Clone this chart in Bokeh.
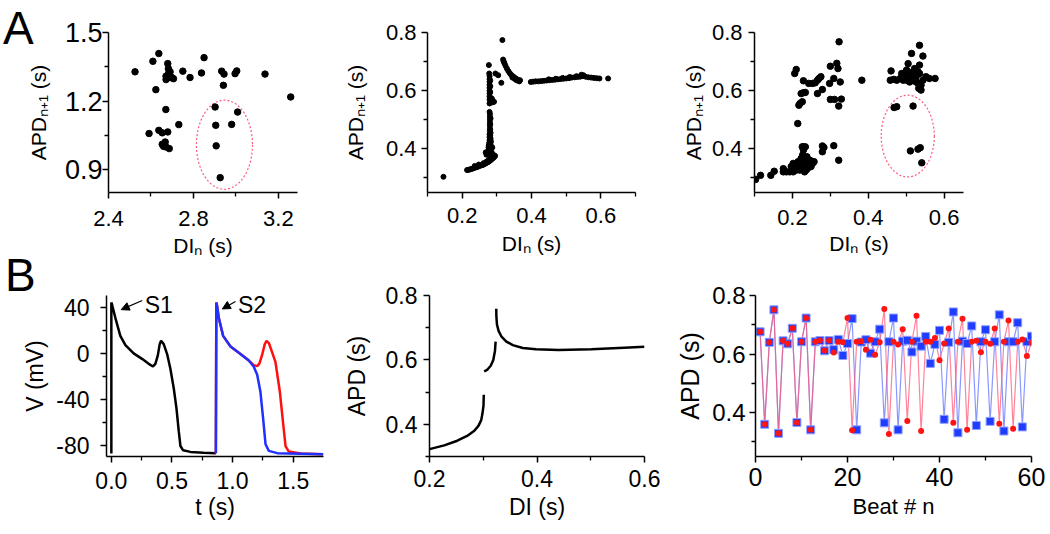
from bokeh.plotting import figure
from bokeh.layouts import column, row
from bokeh.models import FixedTicker, Label, Arrow, NormalHead, Range1d, PrintfTickFormatter, Div
from bokeh.embed import file_html
from bokeh.resources import INLINE

FONT = "Liberation Sans"

# ---------------- Panel A1 data ----------------
a1_di = [2.525, 2.591, 2.609, 2.637, 2.623, 2.637, 2.653, 2.679, 2.670, 2.653, 2.659, 2.671, 2.686, 2.667,
         2.679, 2.682, 2.682, 2.671, 2.671, 2.690, 2.698, 2.706, 2.690, 2.731, 2.750, 2.784, 2.838, 2.850,
         2.902, 2.905, 2.907, 2.926, 2.933, 2.944, 2.941, 2.980, 2.996, 3.004, 3.008, 3.137, 3.258]
a1_apd = [1.328, 1.058, 1.374, 1.408, 1.250, 1.072, 1.061, 1.065, 1.163, 1.011, 1.002, 0.999, 0.992, 1.021,
          1.364, 1.342, 1.320, 1.309, 1.294, 1.303, 1.303, 1.298, 1.328, 1.097, 1.331, 1.303, 1.323, 1.390,
          1.174, 1.094, 1.004, 0.865, 1.331, 1.318, 1.269, 1.098, 1.320, 1.332, 1.152, 1.318, 1.218]
a1_ellipse = dict(x=[2.946], y=[1.009], w=[0.264], h=[0.39])

# ---------------- Panel A2 data ----------------
a2_di = [0.146, 0.316,
         0.214, 0.218, 0.222, 0.226, 0.230, 0.234, 0.238, 0.242, 0.246, 0.250, 0.254, 0.258, 0.262, 0.266,
         0.270, 0.274, 0.278, 0.282, 0.286, 0.290, 0.293, 0.295,
         0.236, 0.248, 0.262, 0.275, 0.284, 0.290, 0.280, 0.270,
         0.268, 0.270, 0.272, 0.274, 0.276, 0.278, 0.280, 0.283, 0.285, 0.287, 0.284, 0.288, 0.276, 0.277,
         0.282, 0.278, 0.283, 0.279, 0.282, 0.279, 0.279, 0.280, 0.280, 0.280, 0.280, 0.280, 0.280, 0.280,
         0.279, 0.281, 0.281, 0.281, 0.282, 0.282,
         0.279, 0.281, 0.284, 0.288, 0.292, 0.283, 0.286, 0.279, 0.279, 0.279, 0.279, 0.279, 0.279, 0.279,
         0.279, 0.279, 0.278, 0.277, 0.281, 0.281, 0.281,
         0.296, 0.304, 0.313,
         0.318, 0.320, 0.322, 0.325, 0.329, 0.333, 0.337, 0.341, 0.346, 0.350, 0.355, 0.360, 0.367, 0.362,
         0.357, 0.352, 0.345, 0.365,
         0.398, 0.405, 0.412, 0.420, 0.428, 0.436, 0.444, 0.452, 0.460, 0.468, 0.476, 0.484, 0.492, 0.500,
         0.508, 0.516, 0.524, 0.532, 0.540, 0.548, 0.556, 0.564, 0.572, 0.580, 0.588, 0.596, 0.621, 0.544,
         0.550, 0.530, 0.510, 0.490, 0.470, 0.450]
a2_apd = [0.304, 0.774,
          0.327, 0.328, 0.329, 0.331, 0.332, 0.334, 0.336, 0.337, 0.339, 0.341, 0.343, 0.344, 0.346, 0.349,
          0.351, 0.354, 0.357, 0.361, 0.365, 0.369, 0.373, 0.376,
          0.341, 0.346, 0.351, 0.360, 0.368, 0.379, 0.366, 0.356,
          0.388, 0.380, 0.385, 0.390, 0.395, 0.400, 0.390, 0.395, 0.385, 0.405, 0.378, 0.383, 0.405, 0.412,
          0.415, 0.420, 0.425, 0.430, 0.435, 0.440, 0.450, 0.460, 0.470, 0.480, 0.490, 0.500, 0.510, 0.520,
          0.527, 0.445, 0.465, 0.485, 0.505, 0.455,
          0.556, 0.560, 0.563, 0.560, 0.562, 0.575, 0.572, 0.570, 0.580, 0.590, 0.600, 0.610, 0.620, 0.630,
          0.640, 0.650, 0.659, 0.688, 0.595, 0.615, 0.635,
          0.659, 0.653, 0.627,
          0.707, 0.700, 0.694, 0.686, 0.676, 0.668, 0.661, 0.655, 0.650, 0.646, 0.642, 0.638, 0.636, 0.634,
          0.636, 0.640, 0.645, 0.632,
          0.630, 0.631, 0.632, 0.632, 0.633, 0.634, 0.635, 0.636, 0.637, 0.638, 0.639, 0.640, 0.641, 0.642,
          0.643, 0.645, 0.646, 0.647, 0.648, 0.650, 0.648, 0.646, 0.645, 0.644, 0.643, 0.642, 0.642, 0.655,
          0.653, 0.650, 0.647, 0.644, 0.641, 0.639]

# ---------------- Panel A3 data ----------------
a3_di = [0.103, 0.116, 0.143, 0.152, 0.176, 0.176, 0.184, 0.193,
         0.197, 0.202, 0.206, 0.210, 0.215, 0.219, 0.219, 0.223, 0.223, 0.227, 0.227, 0.227, 0.229, 0.229,
         0.232, 0.234, 0.236, 0.238, 0.240, 0.243, 0.246, 0.249, 0.253, 0.257, 0.210, 0.202, 0.236, 0.226,
         0.234,
         0.214, 0.217, 0.220, 0.226, 0.223, 0.229, 0.234, 0.206, 0.210, 0.229, 0.243, 0.253, 0.260, 0.266,
         0.270, 0.275, 0.266, 0.279, 0.300, 0.317, 0.320, 0.309, 0.298, 0.326, 0.300, 0.311, 0.329, 0.322,
         0.323, 0.279, 0.283, 0.279, 0.309, 0.322, 0.383,
         0.535, 0.514, 0.544, 0.505, 0.535, 0.460, 0.458, 0.467, 0.475, 0.484, 0.488, 0.492, 0.497, 0.501,
         0.505, 0.509, 0.514, 0.518, 0.522, 0.526, 0.531, 0.533, 0.539, 0.544, 0.552, 0.561, 0.576, 0.518,
         0.526, 0.535, 0.509, 0.501, 0.522, 0.531, 0.539,
         0.468, 0.475, 0.518, 0.511, 0.531, 0.537, 0.541]
a3_apd = [0.295, 0.309, 0.309, 0.323, 0.332, 0.321, 0.321, 0.321,
          0.339, 0.350, 0.333, 0.344, 0.356, 0.327, 0.339, 0.350, 0.367, 0.339, 0.356, 0.379, 0.396, 0.407,
          0.321, 0.344, 0.361, 0.373, 0.333, 0.350, 0.361, 0.339, 0.350, 0.356, 0.327, 0.321, 0.327, 0.407,
          0.407,
          0.487, 0.550, 0.556, 0.562, 0.590, 0.593, 0.594, 0.659, 0.673, 0.634, 0.625, 0.625, 0.627, 0.636,
          0.642, 0.648, 0.590, 0.604, 0.684, 0.694, 0.676, 0.642, 0.625, 0.630, 0.570, 0.570, 0.571, 0.547,
          0.768, 0.410, 0.405, 0.390, 0.411, 0.361, 0.636,
          0.756, 0.728, 0.719, 0.693, 0.688, 0.668, 0.636, 0.639, 0.636, 0.642, 0.659, 0.636, 0.648, 0.671,
          0.648, 0.653, 0.636, 0.665, 0.636, 0.648, 0.625, 0.608, 0.602, 0.636, 0.648, 0.642, 0.642, 0.648,
          0.630, 0.659, 0.630, 0.636, 0.676, 0.665, 0.619,
          0.542, 0.545, 0.547, 0.393, 0.399, 0.404, 0.352]
a3_ellipse = dict(x=[0.504], y=[0.444], w=[0.140], h=[0.281])

# ---------------- Panel B1 data ----------------
b1_t_s1 = [0.0, 0.0, 0.006, 0.033, 0.074, 0.116, 0.184, 0.253, 0.308, 0.344, 0.363, 0.383, 0.399, 0.410,
           0.432, 0.460, 0.487, 0.515, 0.537, 0.556, 0.570, 0.592, 0.652, 0.760, 0.862]
b1_v_s1 = [-87.4, 44, 42, 30.6, 14.9, 6.9, -0.3, -5.1, -9.4, -11.7, -9.5, -2.3, 7.7, 10.6,
           7.7, -0.9, -13.7, -30.9, -48, -68, -80.9, -84.6, -86, -86.8, -87.2]
b1_t_red = [0.862, 0.866, 0.872, 0.886, 0.922, 0.983, 1.065, 1.134, 1.175, 1.203, 1.222, 1.244, 1.265,
            1.280, 1.300, 1.325, 1.354, 1.390, 1.418, 1.437, 1.464, 1.561, 1.748]
b1_v_red = [-87.2, 44, 41, 30.6, 14.9, 5.7, -0.9, -6.6, -10.5, -11.4, -9.0, -1.5, 7.5,
            10.6, 8.5, 1.0, -8, -33.7, -62.3, -80.9, -85.7, -87.4, -88]
b1_t_blue = [0.862, 0.866, 0.872, 0.886, 0.922, 0.983, 1.065, 1.134, 1.175, 1.203, 1.230, 1.252, 1.272,
             1.299, 1.368, 1.748]
b1_v_blue = [-87.2, 44, 41, 30.6, 14.9, 5.7, -0.9, -6.6, -12, -19, -34, -57, -79.4, -85.1, -87.1, -88]
b1_text = ["S1", "S2"]
b1_text_t = [0.275, 1.045]
b1_text_v = [41.5, 41.5]
b1_arrow_t0 = [0.2546, 1.024]
b1_arrow_v0 = [45.7, 44.8]
b1_arrow_t1 = [0.0813, 0.915]
b1_arrow_v1 = [37.7, 38.3]

# ---------------- Panel B2 data ----------------
b2_di = [[0.200, 0.2274, 0.2517, 0.270, 0.2834, 0.2913, 0.2962, 0.2986, 0.3005, 0.301],
         [0.3017, 0.3078, 0.3139, 0.3187, 0.3218, 0.323],
         [0.3242, 0.3244, 0.3255, 0.3285, 0.334, 0.343, 0.355, 0.3736, 0.398, 0.440, 0.501, 0.562, 0.600]]
b2_apd = [[0.323, 0.3345, 0.349, 0.364, 0.380, 0.396, 0.413, 0.434, 0.459, 0.492],
          [0.564, 0.570, 0.582, 0.600, 0.628, 0.657],
          [0.759, 0.736, 0.710, 0.690, 0.672, 0.657, 0.646, 0.637, 0.633, 0.631, 0.633, 0.638, 0.641]]

# ---------------- Panel B3 data ----------------
b3_beat = list(range(1, 61))
b3_blue = [0.676, 0.360, 0.640, 0.751, 0.329, 0.645, 0.635, 0.688, 0.366, 0.642,
           0.723, 0.341, 0.642, 0.646, 0.611, 0.646, 0.615, 0.650, 0.595, 0.636,
           0.721, 0.341, 0.641, 0.649, 0.603, 0.642, 0.685, 0.365, 0.642, 0.723,
           0.341, 0.644, 0.647, 0.607, 0.644, 0.627, 0.660, 0.568, 0.633, 0.681,
           0.377, 0.640, 0.744, 0.331, 0.644, 0.636, 0.696, 0.356, 0.642, 0.683,
           0.370, 0.642, 0.734, 0.337, 0.642, 0.642, 0.707, 0.351, 0.642, 0.661]
b3_red = [0.676, 0.360, 0.640, 0.751, 0.329, 0.645, 0.635, 0.688, 0.366, 0.642,
          0.723, 0.341, 0.642, 0.646, 0.612, 0.646, 0.605, 0.642, 0.640, 0.723,
          0.340, 0.642, 0.644, 0.615, 0.649, 0.598, 0.640, 0.754, 0.327, 0.642,
          0.633, 0.685, 0.371, 0.642, 0.731, 0.337, 0.642, 0.642, 0.655, 0.579,
          0.636, 0.687, 0.365, 0.642, 0.721, 0.341, 0.642, 0.645, 0.606, 0.642,
          0.635, 0.687, 0.362, 0.642, 0.715, 0.345, 0.642, 0.650, 0.593, 0.639]

# ---------------- tick definitions ----------------
a1_xticks, a1_xminor = [2.4, 2.8, 3.2], [2.6, 3.0]
a1_yticks, a1_yminor = [0.9, 1.2, 1.5], [1.05, 1.35]
a2_xticks, a2_xminor = [0.2, 0.4, 0.6], [0.1, 0.3, 0.5, 0.7]
a_yticks, a_yminor = [0.4, 0.6, 0.8], [0.3, 0.5, 0.7]
a3_xticks, a3_xminor = [0.2, 0.4, 0.6], [0.1, 0.3, 0.5]
b1_xticks, b1_xminor = [0.0, 0.5, 1.0, 1.5], [0.25, 0.75, 1.25]
b1_yticks, b1_yminor = [-80, -40, 0, 40], [-60, -20, 20]
b2_xticks, b2_xminor = [0.2, 0.4, 0.6], [0.3, 0.5]
b3_xticks, b3_xminor = [0, 20, 40, 60], [10, 30, 50]


def make_fig(w, h, left, right, top, bottom, xr, yr):
    p = figure(width=w, height=h, x_range=Range1d(*xr), y_range=Range1d(*yr),
               output_backend="svg", toolbar_location=None,
               min_border_left=left, min_border_right=right,
               min_border_top=top, min_border_bottom=bottom)
    p.grid.visible = False
    p.outline_line_color = None
    p.background_fill_color = "white"
    p.border_fill_color = "white"
    return p


def style(p, xt, xm, yt, ym, xfmt, yfmt, xlabel, ylabel, xtfs, ytfs, xlfs, ylfs,
          xtst, ytst, xlst, ylst):
    xa, ya = p.xaxis[0], p.yaxis[0]
    xa.ticker = FixedTicker(ticks=xt, minor_ticks=xm)
    ya.ticker = FixedTicker(ticks=yt, minor_ticks=ym)
    xa.formatter = PrintfTickFormatter(format=xfmt)
    ya.formatter = PrintfTickFormatter(format=yfmt)
    xa.axis_label = xlabel
    ya.axis_label = ylabel
    for ax, tfs, lfs, tst, lst in ((xa, xtfs, xlfs, xtst, xlst), (ya, ytfs, ylfs, ytst, ylst)):
        ax.axis_line_color = "black"
        ax.axis_line_width = 1.5
        ax.major_tick_line_color = "black"
        ax.major_tick_line_width = 1.5
        ax.minor_tick_line_color = "black"
        ax.minor_tick_line_width = 1.3
        ax.major_tick_in = 0
        ax.major_tick_out = 6
        ax.minor_tick_in = 0
        ax.minor_tick_out = 4
        ax.major_label_text_font = FONT
        ax.major_label_text_font_size = tfs
        ax.major_label_text_color = "black"
        ax.major_label_standoff = tst
        ax.axis_label_text_font = FONT
        ax.axis_label_text_font_size = lfs
        ax.axis_label_text_font_style = "normal"
        ax.axis_label_text_color = "black"
        ax.axis_label_standoff = lst


ELL = "#ff5a7a"

# A1
f1 = make_fig(340, 262, 108, 43, 32, 70, (2.4, 3.29), (0.8, 1.5))
style(f1, a1_xticks, a1_xminor, a1_yticks, a1_yminor, "%.1f", "%.1f",
      "DIₙ (s)", "APDₙ₊₁ (s)", "22px", "27px", "21px", "21px", 12, 0, 5, 12)
f1.ellipse(x=a1_ellipse["x"], y=a1_ellipse["y"], width=a1_ellipse["w"], height=a1_ellipse["h"],
           fill_color=None, line_color=ELL, line_dash="2 2", line_width=1.2)
f1.scatter(a1_di, a1_apd, size=6.5, color="black")

# A2
f2 = make_fig(338, 262, 82, 43, 32, 70, (0.1, 0.7), (0.25, 0.8))
style(f2, a2_xticks, a2_xminor, a_yticks, a_yminor, "%.1f", "%.1f",
      "DIₙ (s)", "APDₙ₊₁ (s)", "22px", "22px", "21px", "21px", 9, 5, 6, 16)
f2.scatter(a2_di, a2_apd, size=5, color="black")

# A3
f3 = make_fig(372, 262, 70, 87, 32, 70, (0.1, 0.651), (0.25, 0.8))
style(f3, a3_xticks, a3_xminor, a_yticks, a_yminor, "%.1f", "%.1f",
      "DIₙ (s)", "APDₙ₊₁ (s)", "22px", "22px", "21px", "21px", 11, 6, 4, 4)
f3.ellipse(x=a3_ellipse["x"], y=a3_ellipse["y"], width=a3_ellipse["w"], height=a3_ellipse["h"],
           fill_color=None, line_color=ELL, line_dash="2 2", line_width=1.2)
f3.scatter(a3_di, a3_apd, size=6.5, color="black")

# B1
f4 = make_fig(340, 272, 106, 17, 33, 75, (-0.04, 1.75), (-90, 50))
style(f4, b1_xticks, b1_xminor, b1_yticks, b1_yminor, "%.1f", "%d",
      "t (s)", "V (mV)", "23px", "23px", "23px", "23px", 9, 11, 2, 5)
f4.line(b1_t_s1, b1_v_s1, line_color="black", line_width=2.5)
f4.line(b1_t_red, b1_v_red, line_color="#ff1010", line_width=2.5)
f4.line(b1_t_blue, b1_v_blue, line_color="#2030ff", line_width=2.5)
for i in range(2):
    f4.add_layout(Arrow(end=NormalHead(size=8, fill_color="black", line_color="black"),
                        x_start=b1_arrow_t0[i], y_start=b1_arrow_v0[i],
                        x_end=b1_arrow_t1[i], y_end=b1_arrow_v1[i],
                        line_color="black", line_width=1.2))
    f4.add_layout(Label(x=b1_text_t[i], y=b1_text_v[i], text=b1_text[i], text_font=FONT,
                        text_font_size="23px", text_color="black", text_baseline="alphabetic"))

# B2
f5 = make_fig(333, 272, 85, 29, 30, 78, (0.2, 0.6), (0.3, 0.8))
style(f5, b2_xticks, b2_xminor, a_yticks, a_yminor, "%.1f", "%.1f",
      "DI (s)", "APD (s)", "23px", "23px", "23px", "23px", 7, 6, 4, 13)
f5.multi_line(b2_di, b2_apd, line_color="black", line_width=2.5)

# B3
f6 = make_fig(377, 272, 77, 19, 26, 77, (0, 60), (0.25, 0.8))
style(f6, b3_xticks, b3_xminor, a_yticks, a_yminor, "%d", "%.1f",
      "Beat # n", "APD (s)", "25px", "24px", "22px", "25px", 5, 4, 5, 5)
f6.line(b3_beat, b3_blue, line_color="#7d8cff", line_width=1.2, line_alpha=0.9)
f6.line(b3_beat, b3_red, line_color="#ff5a78", line_width=1.2, line_alpha=0.75)
f6.scatter(b3_beat, b3_blue, marker="square", size=8, fill_color="#1f3cff",
           line_color="#8fa0ff", line_width=1)
f6.scatter(b3_beat, b3_red, marker="circle", size=6, fill_color="#ff1414", line_color=None)

# Panel letters
letter = {"position": "absolute", "font-family": FONT, "font-size": "46px",
          "line-height": "46px", "color": "black", "z-index": "5"}
div_a = Div(text="A", width=40, height=48, styles={**letter, "left": "-2px", "top": "0px"})
div_b = Div(text="B", width=40, height=48, styles={**letter, "left": "0px", "top": "247px"})

layout = column(row(f1, f2, f3, spacing=0), row(f4, f5, f6, spacing=0), div_a, div_b, spacing=0)
open("out.html", "w").write(file_html(layout, INLINE))
